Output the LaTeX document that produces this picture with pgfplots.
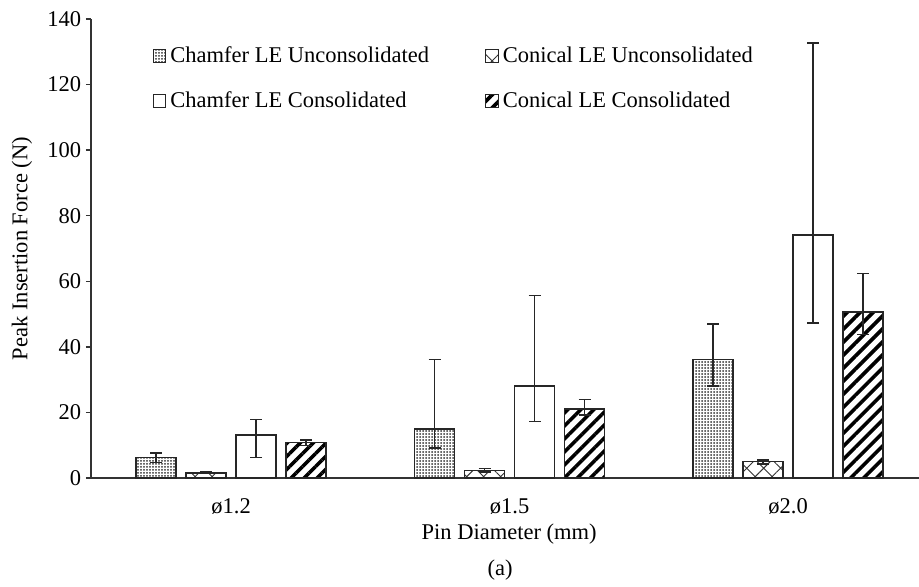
\documentclass[border=0pt]{standalone}
\usepackage{fontspec}
\setmainfont{Liberation Serif}
\usepackage{pgfplots}
\pgfplotsset{compat=1.18}
\usetikzlibrary{patterns.meta}
\begin{document}
\fontsize{11.25pt}{13pt}\selectfont
\begin{tikzpicture}
\begin{axis}[
  scale only axis,
  width=414pt, height=229.5pt,
  xmin=-0.503, xmax=2.470,
  ymin=0, ymax=140,
  clip=false,
  ytick={0,20,...,140},
  xtick={0,1,2},
  xticklabels={ø1.2,ø1.5,ø2.0},
  /pgf/number format/assume math mode=true,
  axis x line=bottom, axis y line=left,
  axis line style={-, line width=0.7pt, black!80},
  tick align=outside,
  ytick style={line width=0.7pt, black!80},
  major tick length=2.5pt,
  xtick style={draw=none},
  yticklabel style={xshift=1.5pt},
  xticklabel style={yshift=-4pt},
  xlabel={Pin Diameter (mm)},
  xlabel style={at={(axis description cs:0.505,-0.122)}, anchor=center},
  ylabel={Peak Insertion Force (N)},
  ylabel style={at={(axis description cs:-0.0833,0.5)}, anchor=center},
  ybar=5pt, bar width=20pt,
  every axis plot/.append style={line width=0.8pt, draw=black!85},
  error bars/y dir=both, error bars/y explicit,
  error bars/error bar style={line width=0.7pt, black!85},
  error bars/error mark options={rotate=90, mark size=3pt, line width=0.7pt, black!85},
  legend columns=2,
  legend style={draw=none, fill=none, at={(axis description cs:0.074,0.95)}, anchor=north west,
    row sep=9pt, inner sep=0pt, /tikz/every even column/.append style={column sep=26pt}},
  legend cell align=left,
  legend image code/.code={\draw[#1, line width=0.5pt] (0pt,-3.2pt) rectangle (6.4pt,3.2pt);},
]
\addplot[fill=white, pattern={Dots[distance=1.5pt, radius=0.5pt]}, pattern color=black!80]
 coordinates {(0,6.3) += (0,1.3) -= (0,1.5)
              (1,15.0) += (0,21.1) -= (0,5.9)
              (2,36.2) += (0,10.8) -= (0,8.1)};
\addplot[fill=white, pattern={Hatch[angle=45, distance=6pt, line width=0.45pt]}, pattern color=black!80]
 coordinates {(0,1.6) += (0,0.3) -= (0,0.3)
              (1,2.3) += (0,0.6) -= (0,0.5)
              (2,5.0) += (0,0.5) -= (0,0.7)};
\addplot[fill=white]
 coordinates {(0,13.1) += (0,4.8) -= (0,6.9)
              (1,28.0) += (0,27.7) -= (0,10.7)
              (2,74.1) += (0,58.6) -= (0,26.8)};
\addplot[fill=white, pattern={Lines[angle=45, distance=4.6pt, line width=1.8pt]}, pattern color=black]
 coordinates {(0,10.8) += (0,0.8) -= (0,0.8)
              (1,21.1) += (0,2.9) -= (0,1.9)
              (2,50.7) += (0,11.7) -= (0,6.9)};
\legend{Chamfer LE Unconsolidated, Conical LE Unconsolidated, Chamfer LE Consolidated, Conical LE Consolidated}
\node at (axis description cs:0.494,-0.2) {(a)};
\end{axis}
\pgfresetboundingbox
\path ([xshift=-45.5pt, yshift=-54.5pt]current axis.south west) rectangle ([yshift=9.5pt]current axis.north east);
\end{tikzpicture}
\end{document}
